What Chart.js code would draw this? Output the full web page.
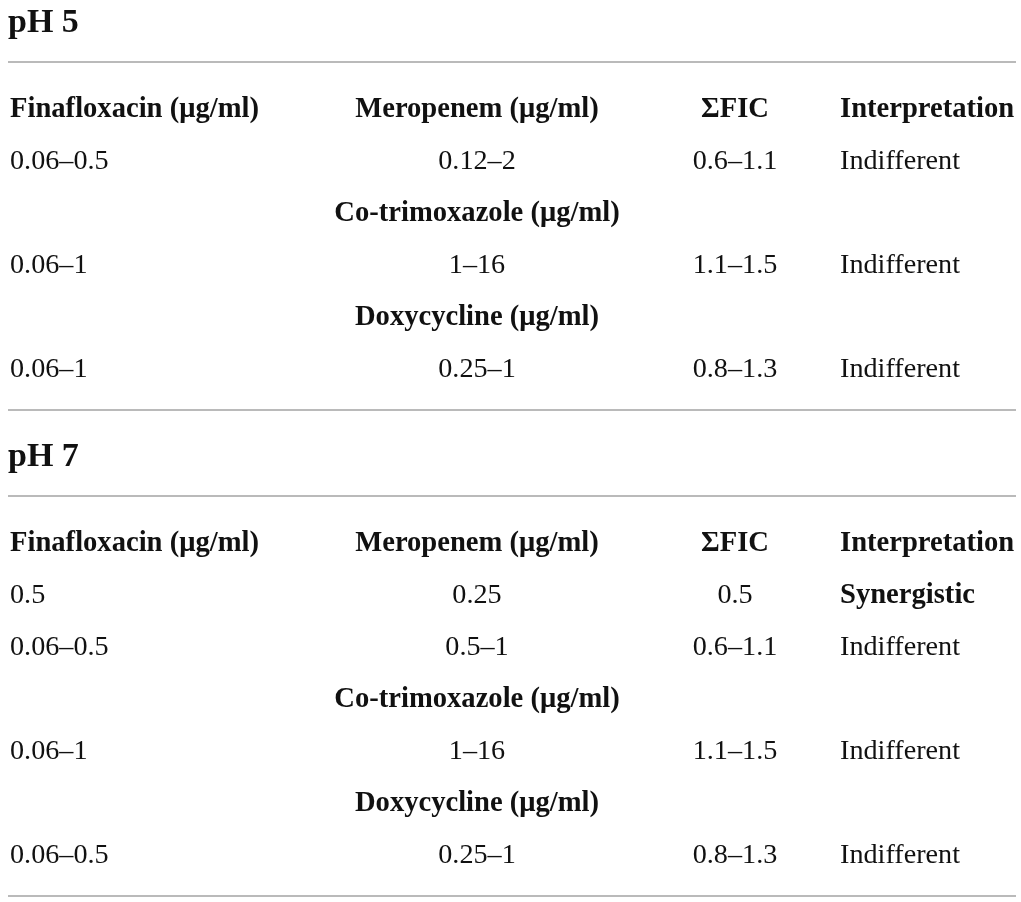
<!DOCTYPE html>
<html>
<head>
<meta charset="utf-8">
<script src="https://cdn.jsdelivr.net/npm/chart.js@4.4.1/dist/chart.umd.min.js"></script>
<style>
  html, body { margin: 0; padding: 0; background: #fff; }
  canvas { display: block; }
</style>
</head>
<body>
<canvas id="ficTable" width="1021" height="902"></canvas>
<script>
// table content
const sections = ['pH 5', 'pH 7'];
const columnHeads = ['Finafloxacin (\u03bcg/ml)', 'Meropenem (\u03bcg/ml)', '\u03a3FIC', 'Interpretation'];
const drugs = ['Meropenem (\u03bcg/ml)', 'Co-trimoxazole (\u03bcg/ml)', 'Doxycycline (\u03bcg/ml)'];

const ph5Drug = [0, 1, 2];
const ph5Fina = ['0.06\u20130.5', '0.06\u20131', '0.06\u20131'];
const ph5Partner = ['0.12\u20132', '1\u201316', '0.25\u20131'];
const ph5Fic = ['0.6\u20131.1', '1.1\u20131.5', '0.8\u20131.3'];
const ph5Interp = ['Indifferent', 'Indifferent', 'Indifferent'];

const ph7Drug = [0, 0, 1, 2];
const ph7Fina = ['0.5', '0.06\u20130.5', '0.06\u20131', '0.06\u20130.5'];
const ph7Partner = ['0.25', '0.5\u20131', '1\u201316', '0.25\u20131'];
const ph7Fic = ['0.5', '0.6\u20131.1', '1.1\u20131.5', '0.8\u20131.3'];
const ph7Interp = ['Synergistic', 'Indifferent', 'Indifferent', 'Indifferent'];

const sectionRows = [
    { drug: ph5Drug, fina: ph5Fina, partner: ph5Partner, fic: ph5Fic, interp: ph5Interp },
    { drug: ph7Drug, fina: ph7Fina, partner: ph7Partner, fic: ph7Fic, interp: ph7Interp }
];

// layout (px along the y scale)
const firstTitle = 32, titleToRule = 30, ruleToHead = 55, rowStep = 52, rowToRule = 33, ruleToTitle = 56;
const colX = [10, 477, 735, 840];
const colAlign = ['left', 'center', 'center', 'left'];
const titleX = 8;
const ruleLeft = 8, ruleRight = 1016;
const titleSize = 34, headSize = 28.6, bodySize = 28.2;

const ink = '#111111';
const ruleColor = '#a3a3a3';
const serif = '"Liberation Serif", "DejaVu Serif", serif';

let cells = [];
let rules = [];
let y = firstTitle;

sections.forEach(function (title, s) {
    cells.push({ x: titleX, y: y, text: title, bold: true, size: titleSize, align: 'left' });
    y += titleToRule;
    rules.push(y);
    y += ruleToHead;
    columnHeads.forEach(function (h, c) {
        cells.push({ x: colX[c], y: y, text: h, bold: true, size: headSize, align: colAlign[c] });
    });
    let rows = sectionRows[s];
    let lastDrug = 0;
    for (let i = 0; i < rows.fina.length; i++) {
        if (rows.drug[i] !== lastDrug) {
            y += rowStep;
            cells.push({ x: colX[1], y: y, text: drugs[rows.drug[i]], bold: true, size: headSize, align: 'center' });
            lastDrug = rows.drug[i];
        }
        y += rowStep;
        let vals = [rows.fina[i], rows.partner[i], rows.fic[i], rows.interp[i]];
        vals.forEach(function (v, c) {
            let strong = (c === 3 && v === 'Synergistic');
            cells.push({ x: colX[c], y: y, text: v, bold: strong, size: strong ? headSize : bodySize, align: colAlign[c] });
        });
    }
    y += rowToRule;
    rules.push(y);
    y += ruleToTitle;
});

let datasets = rules.map(function (ry) {
    return {
        type: 'line',
        data: [{ x: ruleLeft, y: ry }, { x: ruleRight, y: ry }],
        borderColor: ruleColor,
        borderWidth: 1.6,
        pointRadius: 0,
        fill: false
    };
});
datasets.push({
    type: 'scatter',
    label: 'cells',
    data: cells,
    pointRadius: 0,
    pointHoverRadius: 0
});

const cellText = {
    id: 'cellText',
    afterDatasetsDraw: function (chart) {
        let ctx = chart.ctx;
        let idx = chart.data.datasets.length - 1;
        let meta = chart.getDatasetMeta(idx);
        ctx.save();
        ctx.fillStyle = ink;
        ctx.textBaseline = 'alphabetic';
        meta.data.forEach(function (el, i) {
            let d = chart.data.datasets[idx].data[i];
            ctx.font = (d.bold ? 'bold ' : '') + d.size + 'px ' + serif;
            ctx.textAlign = d.align;
            ctx.fillText(d.text, el.x, el.y);
        });
        ctx.restore();
    }
};

new Chart(document.getElementById('ficTable').getContext('2d'), {
    data: { datasets: datasets },
    options: {
        responsive: false,
        animation: false,
        devicePixelRatio: 1,
        layout: { padding: 0 },
        plugins: { legend: { display: false }, tooltip: { enabled: false } },
        events: [],
        scales: {
            x: { type: 'linear', min: 0, max: 1021, display: false },
            y: { type: 'linear', min: 0, max: 902, reverse: true, display: false }
        }
    },
    plugins: [cellText]
});
</script>
</body>
</html>
